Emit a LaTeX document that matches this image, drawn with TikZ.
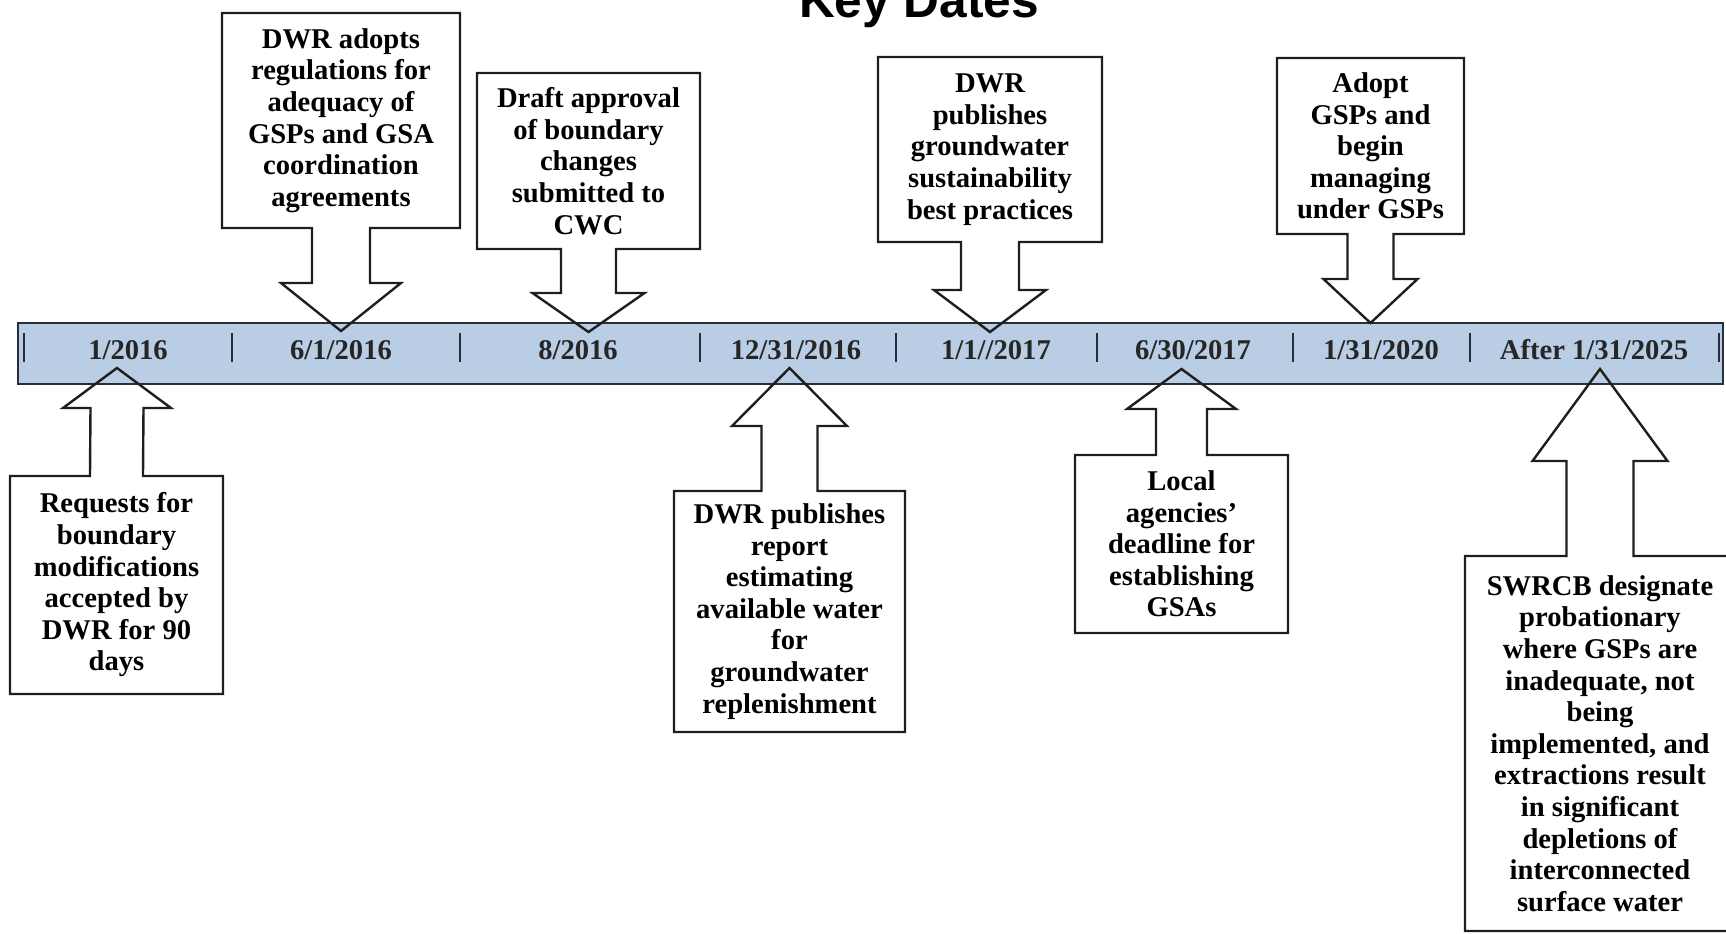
\documentclass[tikz,border=0pt]{standalone}
\usepackage{fontspec}
\setmainfont{Liberation Serif}
\newfontfamily\titlefont{Liberation Sans}
\usetikzlibrary{calc}

\definecolor{barblue}{RGB}{185,205,229}
\definecolor{barline}{RGB}{38,46,60}
\definecolor{callline}{RGB}{30,30,30}

\tikzset{every picture/.style={line width=1.2pt}}
\tikzset{
  callout/.style={draw=callline, line width=1.2pt, line join=miter},
  calltext/.style={inner sep=0pt, outer sep=0pt, align=center, font=\fontsize{14.3}{15.8}\selectfont\bfseries},
  datetext/.style={anchor=base, inner sep=0pt, font=\fontsize{14.3}{15.8}\selectfont\bfseries, text=black!85},
  bartick/.style={draw=barline, line width=1pt}
}

\begin{document}
\begin{tikzpicture}[x=0.5pt,y=0.5pt,yscale=-1,xscale=1]
\useasboundingbox (0,0) rectangle (1726,933);

% Title
\node (title) [anchor=base, inner sep=0pt, font=\titlefont\fontsize{24.8}{28}\selectfont\bfseries] at (919,17) {Key Dates};

%Shape: Timeline bar
\draw [fill=barblue, draw=barline, line width=1.35pt] (18,323) rectangle (1723,384);
%Straight Lines: ticks
\draw [bartick] (24,333) -- (24,362) (232,333) -- (232,362) (460,333) -- (460,362) (700,333) -- (700,362) (896,333) -- (896,362) (1097,333) -- (1097,362) (1293,333) -- (1293,362) (1470,333) -- (1470,362) (1719,333) -- (1719,362);

% Text Node: dates
\node (d1) [datetext] at (128,359) {1/2016};
\node (d2) [datetext] at (341,359) {6/1/2016};
\node (d3) [datetext] at (578,359) {8/2016};
\node (d4) [datetext] at (796,359) {12/31/2016};
\node (d5) [datetext] at (996,359) {1/1//2017};
\node (d6) [datetext] at (1193,359) {6/30/2017};
\node (d7) [datetext] at (1381,359) {1/31/2020};
\node (d8) [datetext] at (1594,359) {After 1/31/2025};

% Text Node: callouts above
\node (n1) [calltext, minimum width=119pt, minimum height=107.5pt] at (341,120.5) {DWR adopts\\regulations for\\adequacy of\\GSPs and GSA\\coordination\\agreements};
\node (n2) [calltext, minimum width=111.5pt, minimum height=88pt] at (588.5,161) {Draft approval\\of boundary\\changes\\submitted to\\CWC};
\node (n3) [calltext, minimum width=112pt, minimum height=92.5pt] at (990,149.5) {DWR\\publishes\\groundwater\\sustainability\\best practices};
\node (n4) [calltext, minimum width=93.5pt, minimum height=88pt] at (1370.5,146) {Adopt\\GSPs and\\begin\\managing\\under GSPs};

% Text Node: callouts below
\node (n5) [calltext, minimum width=106.5pt, minimum height=109pt] at (116.5,585) {Requests for\\boundary\\modifications\\accepted by\\DWR for 90\\days};
\node (n6) [calltext, minimum width=115.5pt, minimum height=120.5pt] at (789.5,611.5) {DWR publishes\\report\\estimating\\available water\\for\\groundwater\\replenishment};
\node (n7) [calltext, minimum width=106.5pt, minimum height=89pt] at (1181.5,544) {Local\\agencies’\\deadline for\\establishing\\GSAs};
\node (n8) [calltext, minimum width=135pt, minimum height=187.5pt] at (1600,743.5) {SWRCB designate\\probationary\\where GSPs are\\inadequate, not\\being\\implemented, and\\extractions result\\in significant\\depletions of\\interconnected\\surface water};

% arrow tips on the bar
\coordinate (t1) at (341,331);
\coordinate (t2) at (588.5,332);
\coordinate (t3) at (990,332);
\coordinate (t4) at (1370.5,323);
\coordinate (t5) at (117,368);
\coordinate (t6) at (789.5,368);
\coordinate (t7) at (1181.5,369);
\coordinate (t8) at (1600,369);

%Shape: Down callouts
\draw [callout] (n1.north west) -- (n1.north east) -- (n1.south east) -- ($(n1.south)+(29,0)$) -- ($(t1)+(29,-48)$) -- ($(t1)+(60,-48)$) -- (t1) -- ($(t1)+(-60,-48)$) -- ($(t1)+(-29,-48)$) -- ($(n1.south)+(-29,0)$) -- (n1.south west) -- cycle;
\draw [callout] (n2.north west) -- (n2.north east) -- (n2.south east) -- ($(n2.south)+(27.5,0)$) -- ($(t2)+(27.5,-39)$) -- ($(t2)+(56,-39)$) -- (t2) -- ($(t2)+(-56,-39)$) -- ($(t2)+(-27.5,-39)$) -- ($(n2.south)+(-27.5,0)$) -- (n2.south west) -- cycle;
\draw [callout] (n3.north west) -- (n3.north east) -- (n3.south east) -- ($(n3.south)+(29,0)$) -- ($(t3)+(29,-42)$) -- ($(t3)+(56,-42)$) -- (t3) -- ($(t3)+(-56,-42)$) -- ($(t3)+(-29,-42)$) -- ($(n3.south)+(-29,0)$) -- (n3.south west) -- cycle;
\draw [callout] (n4.north west) -- (n4.north east) -- (n4.south east) -- ($(n4.south)+(23,0)$) -- ($(t4)+(23,-44)$) -- ($(t4)+(47,-44)$) -- (t4) -- ($(t4)+(-47,-44)$) -- ($(t4)+(-23,-44)$) -- ($(n4.south)+(-23,0)$) -- (n4.south west) -- cycle;

%Shape: Up callouts
\draw [callout] (n5.south west) -- (n5.north west) -- ($(n5.north)+(-26.5,0)$) -- ($(t5)+(-26.5,40)$) -- ($(t5)+(-54,40)$) -- (t5) -- ($(t5)+(54,40)$) -- ($(t5)+(26.5,40)$) -- ($(n5.north)+(26.5,0)$) -- (n5.north east) -- (n5.south east) -- cycle;
\draw [callout] (n6.south west) -- (n6.north west) -- ($(n6.north)+(-28,0)$) -- ($(t6)+(-28,58)$) -- ($(t6)+(-57.5,58)$) -- (t6) -- ($(t6)+(57.5,58)$) -- ($(t6)+(28,58)$) -- ($(n6.north)+(28,0)$) -- (n6.north east) -- (n6.south east) -- cycle;
\draw [callout] (n7.south west) -- (n7.north west) -- ($(n7.north)+(-25.5,0)$) -- ($(t7)+(-25.5,40)$) -- ($(t7)+(-54.5,40)$) -- (t7) -- ($(t7)+(54.5,40)$) -- ($(t7)+(25.5,40)$) -- ($(n7.north)+(25.5,0)$) -- (n7.north east) -- (n7.south east) -- cycle;
\draw [callout] (n8.south west) -- (n8.north west) -- ($(n8.north)+(-33.5,0)$) -- ($(t8)+(-33.5,92)$) -- ($(t8)+(-67.5,92)$) -- (t8) -- ($(t8)+(67.5,92)$) -- ($(t8)+(33.5,92)$) -- ($(n8.north)+(33.5,0)$) -- (n8.north east) -- (n8.south east) -- cycle;

\end{tikzpicture}
\end{document}
